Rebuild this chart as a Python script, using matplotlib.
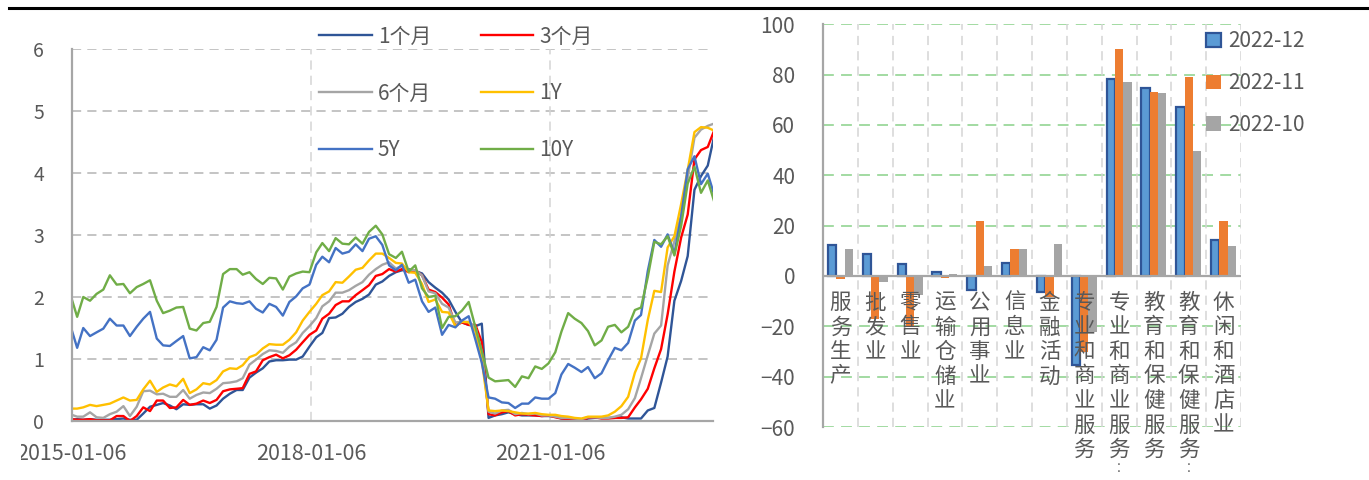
import numpy as np
import pandas as pd
import matplotlib
matplotlib.use('Agg')
import matplotlib.pyplot as plt
from matplotlib.lines import Line2D
from matplotlib.patches import Patch
from matplotlib.transforms import offset_copy, Bbox

plt.rcParams['font.family'] = ['Noto Sans CJK SC', 'DejaVu Sans']

# ---- 美债收益率（%）：2015-01-06 起点 + 2015-01 至 2023-01 各月末 ----
dates = pd.DatetimeIndex([pd.Timestamp('2015-01-06')]).append(
    pd.date_range('2015-02-01', '2023-02-01', freq='MS') - pd.Timedelta(days=1))

y1m = [0.02,
       0.03, 0.02, 0.03, 0.02, 0.02, 0.02, 0.03, 0.04, 0.02, 0.02, 0.12, 0.23,
       0.26, 0.29, 0.25, 0.19, 0.27, 0.26, 0.27, 0.27, 0.20, 0.25, 0.36, 0.44,
       0.50, 0.50, 0.70, 0.78, 0.85, 0.96, 0.98, 0.98, 0.99, 0.99, 1.04, 1.20,
       1.35, 1.42, 1.66, 1.67, 1.73, 1.84, 1.92, 1.97, 2.04, 2.20, 2.25, 2.34,
       2.40, 2.43, 2.45, 2.42, 2.38, 2.24, 2.15, 2.07, 1.96, 1.76, 1.59, 1.55,
       1.53, 1.57, 0.05, 0.09, 0.11, 0.14, 0.11, 0.09, 0.09, 0.09, 0.08, 0.08,
       0.07, 0.04, 0.03, 0.02, 0.01, 0.04, 0.05, 0.05, 0.05, 0.05, 0.06, 0.04,
       0.04, 0.04, 0.17, 0.21, 0.62, 1.04, 1.94, 2.26, 2.66, 3.73, 3.95, 4.12,
       4.62]
y3m = [0.03,
       0.02, 0.02, 0.03, 0.01, 0.01, 0.01, 0.08, 0.08, 0.00, 0.08, 0.22, 0.16,
       0.33, 0.33, 0.21, 0.22, 0.34, 0.26, 0.28, 0.33, 0.29, 0.34, 0.48, 0.51,
       0.52, 0.53, 0.76, 0.80, 0.98, 1.03, 1.07, 1.01, 1.06, 1.15, 1.27, 1.39,
       1.46, 1.65, 1.73, 1.87, 1.93, 1.93, 2.03, 2.11, 2.19, 2.34, 2.37, 2.45,
       2.41, 2.45, 2.40, 2.43, 2.35, 2.12, 2.08, 1.99, 1.88, 1.54, 1.59, 1.55,
       1.55, 1.27, 0.11, 0.09, 0.14, 0.16, 0.09, 0.11, 0.10, 0.09, 0.08, 0.09,
       0.06, 0.04, 0.03, 0.01, 0.01, 0.05, 0.06, 0.04, 0.04, 0.05, 0.05, 0.06,
       0.22, 0.35, 0.52, 0.85, 1.16, 1.72, 2.41, 2.96, 3.33, 4.22, 4.37, 4.42,
       4.70]
y6m = [0.10,
       0.07, 0.07, 0.14, 0.06, 0.05, 0.11, 0.15, 0.24, 0.08, 0.23, 0.48, 0.49,
       0.43, 0.44, 0.39, 0.39, 0.50, 0.36, 0.42, 0.46, 0.45, 0.52, 0.61, 0.62,
       0.64, 0.69, 0.91, 0.99, 1.08, 1.14, 1.13, 1.10, 1.20, 1.27, 1.42, 1.53,
       1.66, 1.85, 1.93, 2.07, 2.07, 2.11, 2.18, 2.24, 2.36, 2.45, 2.52, 2.56,
       2.46, 2.50, 2.44, 2.43, 2.35, 2.09, 2.06, 1.89, 1.83, 1.59, 1.60, 1.60,
       1.51, 1.11, 0.15, 0.12, 0.17, 0.18, 0.11, 0.13, 0.11, 0.12, 0.09, 0.09,
       0.07, 0.05, 0.05, 0.04, 0.03, 0.06, 0.06, 0.05, 0.05, 0.07, 0.10, 0.19,
       0.37, 0.69, 1.06, 1.41, 1.54, 2.51, 2.90, 3.32, 3.92, 4.57, 4.70, 4.76,
       4.80]
y1y = [0.20,
       0.20, 0.22, 0.26, 0.24, 0.26, 0.28, 0.33, 0.38, 0.33, 0.34, 0.51, 0.65,
       0.47, 0.54, 0.59, 0.56, 0.68, 0.45, 0.51, 0.61, 0.59, 0.66, 0.80, 0.85,
       0.84, 0.90, 1.03, 1.07, 1.17, 1.24, 1.23, 1.23, 1.31, 1.43, 1.62, 1.76,
       1.89, 2.03, 2.09, 2.24, 2.23, 2.33, 2.44, 2.47, 2.59, 2.70, 2.70, 2.63,
       2.55, 2.54, 2.40, 2.39, 2.21, 1.92, 1.96, 1.76, 1.75, 1.53, 1.60, 1.59,
       1.45, 0.98, 0.17, 0.16, 0.17, 0.16, 0.14, 0.12, 0.12, 0.13, 0.11, 0.10,
       0.10, 0.08, 0.07, 0.05, 0.04, 0.07, 0.07, 0.07, 0.09, 0.15, 0.24, 0.39,
       0.78, 1.01, 1.63, 2.10, 2.08, 2.80, 2.98, 3.50, 4.05, 4.66, 4.74, 4.73,
       4.68]
y5y = [1.47,
       1.18, 1.50, 1.37, 1.43, 1.49, 1.65, 1.54, 1.54, 1.37, 1.52, 1.65, 1.76,
       1.33, 1.22, 1.21, 1.29, 1.37, 1.01, 1.03, 1.19, 1.14, 1.31, 1.83, 1.93,
       1.90, 1.89, 1.93, 1.81, 1.75, 1.89, 1.84, 1.70, 1.92, 2.01, 2.14, 2.20,
       2.52, 2.65, 2.56, 2.79, 2.70, 2.73, 2.85, 2.74, 2.94, 2.98, 2.84, 2.51,
       2.43, 2.52, 2.23, 2.28, 1.93, 1.76, 1.83, 1.39, 1.55, 1.51, 1.62, 1.69,
       1.31, 0.94, 0.38, 0.36, 0.30, 0.29, 0.21, 0.28, 0.28, 0.38, 0.36, 0.36,
       0.45, 0.75, 0.92, 0.86, 0.79, 0.87, 0.69, 0.77, 0.98, 1.18, 1.14, 1.26,
       1.62, 1.71, 2.42, 2.92, 2.81, 3.01, 2.70, 3.30, 4.06, 4.27, 3.82, 3.99,
       3.63]
y10y = [1.97,
        1.68, 2.00, 1.94, 2.05, 2.12, 2.35, 2.20, 2.21, 2.06, 2.16, 2.21, 2.27,
        1.94, 1.74, 1.78, 1.83, 1.84, 1.49, 1.46, 1.58, 1.60, 1.84, 2.37, 2.45,
        2.45, 2.36, 2.40, 2.29, 2.21, 2.31, 2.30, 2.12, 2.33, 2.38, 2.41, 2.40,
        2.72, 2.87, 2.74, 2.95, 2.86, 2.85, 2.96, 2.86, 3.05, 3.15, 3.01, 2.69,
        2.63, 2.73, 2.41, 2.51, 2.14, 2.00, 2.02, 1.50, 1.68, 1.69, 1.78, 1.92,
        1.51, 1.13, 0.70, 0.64, 0.65, 0.66, 0.55, 0.72, 0.69, 0.88, 0.84, 0.93,
        1.11, 1.44, 1.74, 1.65, 1.58, 1.45, 1.22, 1.30, 1.52, 1.55, 1.43, 1.52,
        1.79, 1.83, 2.32, 2.89, 2.85, 2.98, 2.67, 3.15, 3.83, 4.10, 3.68, 3.88,
        3.52]

series_names = ['1个月', '3个月', '6个月', '1Y', '5Y', '10Y']
series_colors = ['#2F5597', '#FF0000', '#A5A5A5', '#FFC000', '#4472C4', '#70AD47']
date_ticks = ['2015-01-06', '2018-01-06', '2021-01-06']

# ---- 非农就业分行业变动（千人）----
sectors = ['服务生产', '批发业', '零售业', '运输仓储业', '公用事业', '信息业',
           '金融活动', '专业和商业服务', '专业和商业服务︰', '教育和保健服务',
           '教育和保健服务︰', '休闲和酒店业']
months = ['2022-12', '2022-11', '2022-10']
v_dec = [12.2, 8.9, 4.6, 1.6, -5.4, 5.2, -6.4, -35.5, 78.3, 74.6, 67.2, 14.3]
v_nov = [-1.3, -17.0, -20.0, -0.8, 21.9, 10.6, -8.3, -30.2, 90.0, 73.1, 78.9, 21.9]
v_oct = [10.9, -2.4, -7.7, 0.9, 3.8, 10.6, 12.8, -22.3, 77.0, 72.8, 49.8, 11.9]

W, H = 1369, 480
fig = plt.figure(figsize=(W / 100, H / 100), dpi=100)
txt = '#595959'
spine_c = '#A6A6A6'

# ================= 左图：收益率 =================
ax1 = fig.add_axes([71.7 / W, 1 - 421 / H, (713 - 71.7) / W, (421 - 49) / H])
all_y = [y1m, y3m, y6m, y1y, y5y, y10y]
lines = []
for vals, name, c in zip(all_y, series_names, series_colors):
    ln, = ax1.plot(dates, vals, color=c, lw=1.7, label=name)
    lines.append(ln)

ax1.set_xlim(pd.Timestamp('2015-01-06'), pd.Timestamp('2023-01-24'))
ax1.set_ylim(0, 6)
ax1.set_yticks(range(0, 7))
ax1.set_xticks(pd.to_datetime(date_ticks))
ax1.set_xticklabels(date_ticks)
for y in range(1, 7):
    ax1.axhline(y, color='#B4B4B4', lw=1.1, ls=(0, (6, 4)), zorder=0)
for d in date_ticks[1:]:
    ax1.axvline(pd.Timestamp(d), color='#D4D4D4', lw=1.1, ls=(0, (6, 4)), zorder=0)
for s in ['top', 'right']:
    ax1.spines[s].set_visible(False)
for s in ['left', 'bottom']:
    ax1.spines[s].set_color(spine_c)
    ax1.spines[s].set_linewidth(1.6)
ax1.tick_params(axis='y', length=0, pad=20, labelsize=14, labelcolor=txt)
ax1.tick_params(axis='x', length=0, pad=16, labelsize=15.5, labelcolor=txt)
for lab in ax1.get_xticklabels():
    lab.set_clip_box(Bbox.from_extents(21, 0, W, H))
    lab.set_clip_on(True)

order = [0, 2, 4, 1, 3, 5]
fig.legend([lines[i] for i in order], [series_names[i] for i in order],
           ncol=2, loc='upper left', bbox_to_anchor=(309 / W, 1 - 15 / H),
           frameon=False, fontsize=15, labelcolor=txt, borderpad=0,
           handlelength=2.5, handletextpad=0.3, columnspacing=2.4,
           labelspacing=1.68)

# ================= 右图：分行业柱状 =================
ax2 = fig.add_axes([823 / W, 1 - 427 / H, (1241 - 823) / W, (427 - 24.3) / H])
x = np.arange(len(sectors))
w = 0.24
ax2.bar(x - w, v_dec, w, color='#5B9BD5', edgecolor='#2F5597', lw=1.6,
        label=months[0], zorder=3)
ax2.bar(x, v_nov, w, color='#ED7D31', label=months[1], zorder=3)
ax2.bar(x + w, v_oct, w, color='#A5A5A5', label=months[2], zorder=3)

ax2.set_xlim(-0.5, len(sectors) - 0.5)
ax2.set_ylim(-60, 100)
ax2.set_yticks(range(-60, 101, 20))
ax2.set_xticks([])
for y in range(-60, 101, 20):
    ax2.axhline(y, color='#9BD89B', lw=1.3, ls=(0, (6, 4)), zorder=0)
for b in np.arange(0.5, len(sectors), 1.0):
    ax2.axvline(b, color='#D4D4D4', lw=1.1, ls=(0, (6, 4)), zorder=0)
ax2.axhline(0, color=spine_c, lw=1.6, zorder=4)
for s in ['top', 'right', 'bottom']:
    ax2.spines[s].set_visible(False)
ax2.spines['left'].set_color(spine_c)
ax2.spines['left'].set_linewidth(1.6)
ax2.tick_params(axis='y', length=0, pad=20, labelsize=15, labelcolor=txt)

# 竖排行业名称，逐字排列；省略号缩小贴在末字下方
for i, name in enumerate(sectors):
    for j, ch in enumerate(name):
        if ch == '︰':
            dy, fs = 27 + 24.5 * (j - 1) + 19, 10
        else:
            dy, fs = 27 + 24.5 * j, 15.5
        tr = offset_copy(ax2.transData, fig=fig, x=0, y=-dy, units='dots')
        ax2.text(i, 0, ch, transform=tr, ha='center', va='center',
                 fontsize=fs, color=txt, zorder=6, clip_on=False)

fig.legend(handles=[Patch(facecolor='#5B9BD5', edgecolor='#2F5597', lw=1.6),
                    Patch(facecolor='#ED7D31'), Patch(facecolor='#A5A5A5')],
           labels=months, loc='upper left', bbox_to_anchor=(1196 / W, 1 - 20 / H),
           frameon=False, fontsize=15, labelcolor=txt, borderpad=0,
           handlelength=0.7, handleheight=0.7, handletextpad=0.35,
           labelspacing=0.95)

# 顶部分隔线
fig.add_artist(Line2D([9 / W, 1], [1 - 8 / H, 1 - 8 / H], color='black',
                      lw=2.2, transform=fig.transFigure))

fig.savefig('out.png', dpi=100)
